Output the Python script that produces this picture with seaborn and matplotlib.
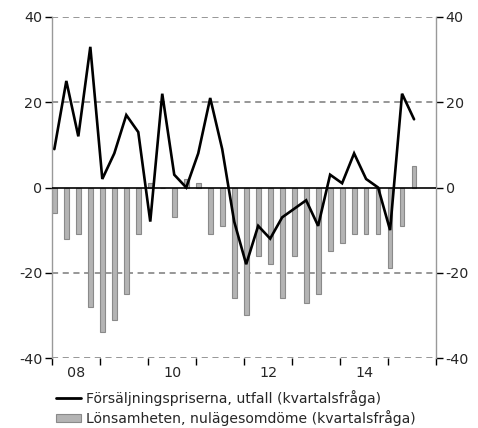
import matplotlib
matplotlib.use("Agg")
import matplotlib.pyplot as plt
import numpy as np
import pandas as pd
import seaborn as sns

# quarterly data, 2008 Q1 .. 2015 Q3
quarter_idx = list(range(31))
sales_prices = [9, 25, 12, 33, 2, 8, 17, 13, -8, 22, 3, 0, 8, 21, 9,
                -8, -18, -9, -12, -7, -5, -3, -9, 3, 1, 8, 2, 0, -10, 22, 16]
profitability = [-6, -12, -11, -28, -34, -31, -25, -11, 1, 0, -7, 2, 1, -11, -9,
                 -26, -30, -16, -18, -26, -16, -27, -25, -15, -13, -11, -11, -11, -19, -9, 5]
year_labels = ["08", "10", "12", "14"]
line_label = "Försäljningspriserna, utfall (kvartalsfråga)"
bar_label = "Lönsamheten, nulägesomdöme (kvartalsfråga)"

df = pd.DataFrame({"q": quarter_idx, "sales": sales_prices, "profit": profitability})

sns.set_style("white")
plt.rcParams["font.family"] = ["DejaVu Sans"]
plt.rcParams["font.size"] = 10
plt.rcParams["axes.unicode_minus"] = False

fig = plt.figure(figsize=(4.78, 4.28), dpi=100)
ax = fig.add_axes([52.3 / 478, 1 - 358 / 428, (436 - 52.3) / 478, (358 - 17) / 428])

grid_col = "#7a7a7a"
for yv in [40, 20, -20, -40]:
    ax.axhline(yv, color=grid_col, lw=1.1, ls=(0, (4, 3)), zorder=0)

sns.barplot(data=df, x="q", y="profit", native_scale=True, width=0.4,
            color="#b4b4b4", edgecolor="#8a8a8a", linewidth=0.8,
            saturation=1, ax=ax, zorder=2)
ax.axhline(0, color="black", lw=1.2, zorder=3)
sns.lineplot(data=df, x="q", y="sales", color="black", lw=1.9, ax=ax, zorder=4)
for ln in ax.lines:
    ln.set_solid_joinstyle("miter")

ax.set_xlim(-0.17, 31.83)
ax.set_ylim(-40, 40)
ax.set_yticks([-40, -20, 0, 20, 40])
ax.set_xticks([-0.17 + 4 * k for k in range(9)])
ax.set_xticklabels([])
ax.set_xticks([-0.17 + 2 + 8 * k for k in range(4)], minor=True)
ax.set_xticklabels(year_labels, minor=True)
ax.tick_params(axis="x", which="minor", bottom=True, length=0, pad=6, labelsize=10.3)
ax.tick_params(axis="x", which="major", bottom=True, length=5, width=1,
               color="black", direction="out")
ax.tick_params(axis="y", length=5, width=1, color="black", direction="out",
               left=True, right=True, labelleft=True, labelright=True, labelsize=10.3, pad=2)
ax.set_xlabel("")
ax.set_ylabel("")

for side in ["top", "bottom"]:
    ax.spines[side].set_visible(False)
for side in ["left", "right"]:
    ax.spines[side].set_color("#999999")
    ax.spines[side].set_linewidth(1)

handles = [
    plt.Line2D([], [], color="black", lw=2.0),
    plt.Rectangle((0, 0), 1, 1, facecolor="#b4b4b4", edgecolor="#8a8a8a", lw=0.8),
]
fig.legend(handles, [line_label, bar_label], loc="upper left",
           bbox_to_anchor=(56 / 478, 1 - 390 / 428), frameon=False,
           handlelength=1.8, handleheight=0.55, handletextpad=0.35,
           labelspacing=0.3, borderpad=0, borderaxespad=0, fontsize=10.1)

fig.savefig("out.png", dpi=100)
